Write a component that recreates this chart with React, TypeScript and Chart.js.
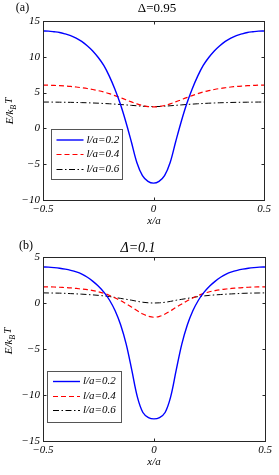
import React, { useEffect, useRef } from 'react';
import { Chart, registerables } from 'chart.js';
Chart.register(...registerables);

// x/a positions (shared by both panels)
const xValues = [
  -0.5, -0.475, -0.45, -0.425, -0.4, -0.375, -0.35, -0.325, -0.3, -0.275, -0.25,
  -0.225, -0.2, -0.175, -0.15, -0.125, -0.1, -0.075, -0.05, -0.025, 0,
  0.025, 0.05, 0.075, 0.1, 0.125, 0.15, 0.175, 0.2, 0.225, 0.25,
  0.275, 0.3, 0.325, 0.35, 0.375, 0.4, 0.425, 0.45, 0.475, 0.5,
];

const seriesLabels = ['l/a=0.2', 'l/a=0.4', 'l/a=0.6'];

// Panel (a): Δ=0.95
const topL02 = [
  13.6, 13.58, 13.5, 13.4, 13.2, 12.95, 12.6, 12.15, 11.55, 10.82, 9.9,
  8.8, 7.3, 5.5, 3.4, 0.9, -1.9, -4.8, -6.6, -7.4, -7.65,
  -7.4, -6.6, -4.8, -1.9, 0.9, 3.4, 5.5, 7.3, 8.8, 9.9,
  10.82, 11.55, 12.15, 12.6, 12.95, 13.2, 13.4, 13.5, 13.58, 13.6,
];
const topL04 = [
  6.05, 6.04, 6.0, 5.97, 5.92, 5.86, 5.78, 5.68, 5.57, 5.43, 5.27,
  5.08, 4.85, 4.58, 4.3, 4.0, 3.7, 3.42, 3.2, 3.05, 3.0,
  3.05, 3.2, 3.42, 3.7, 4.0, 4.3, 4.58, 4.85, 5.08, 5.27,
  5.43, 5.57, 5.68, 5.78, 5.86, 5.92, 5.97, 6.0, 6.04, 6.05,
];
const topL06 = [
  3.68, 3.68, 3.67, 3.66, 3.65, 3.64, 3.62, 3.6, 3.58, 3.55, 3.52,
  3.48, 3.44, 3.39, 3.34, 3.28, 3.22, 3.16, 3.1, 3.06, 3.05,
  3.06, 3.1, 3.16, 3.22, 3.28, 3.34, 3.39, 3.44, 3.48, 3.52,
  3.55, 3.58, 3.6, 3.62, 3.64, 3.65, 3.66, 3.67, 3.68, 3.68,
];

// Panel (b): Δ=0.1
const botL02 = [
  3.92, 3.9, 3.85, 3.78, 3.68, 3.55, 3.38, 3.14, 2.8, 2.35, 1.82,
  1.15, 0.3, -0.85, -2.4, -4.5, -7.3, -10.2, -11.9, -12.45, -12.6,
  -12.45, -11.9, -10.2, -7.3, -4.5, -2.4, -0.85, 0.3, 1.15, 1.82,
  2.35, 2.8, 3.14, 3.38, 3.55, 3.68, 3.78, 3.85, 3.9, 3.92,
];
const botL04 = [
  1.76, 1.75, 1.74, 1.71, 1.68, 1.64, 1.58, 1.52, 1.45, 1.35, 1.22,
  1.05, 0.82, 0.55, 0.25, -0.1, -0.45, -0.85, -1.2, -1.45, -1.55,
  -1.45, -1.2, -0.85, -0.45, -0.1, 0.25, 0.55, 0.82, 1.05, 1.22,
  1.35, 1.45, 1.52, 1.58, 1.64, 1.68, 1.71, 1.74, 1.75, 1.76,
];
const botL06 = [
  1.1, 1.09, 1.08, 1.07, 1.05, 1.02, 0.99, 0.96, 0.92, 0.88, 0.83,
  0.77, 0.7, 0.6, 0.5, 0.4, 0.3, 0.18, 0.08, 0.02, 0.0,
  0.02, 0.08, 0.18, 0.3, 0.4, 0.5, 0.6, 0.7, 0.77, 0.83,
  0.88, 0.92, 0.96, 0.99, 1.02, 1.05, 1.07, 1.08, 1.09, 1.1,
];

const xTickValues = [-0.5, 0, 0.5];
const topYTicks = [-10, -5, 0, 5, 10, 15];
const botYTicks = [-15, -10, -5, 0, 5];

const SERIF = '"Liberation Serif", "Times New Roman", "DejaVu Serif", serif';
const fmt = (v: number) => String(v).replace('-', '\u2212');

type Panel = {
  H: number;
  area: { l: number; t: number; r: number; b: number };
  yMin: number;
  yMax: number;
  yTicks: number[];
  series: number[][];
  title: string;
  titleItalic: boolean;
  titleSize: number;
  titlePos: [number, number];
  tag: string;
  tagPos: [number, number];
  yLabelPos: [number, number];
  xLabelPos: [number, number];
  legend: { x: number; y: number; w: number; h: number; rows: number[]; lx0: number; lx1: number; tx: number };
};

const styles = [
  { color: '#0000ff', width: 1.4, dash: [] as number[] },
  { color: '#ff0000', width: 1.2, dash: [5, 3] },
  { color: '#000000', width: 1.0, dash: [6, 2.5, 1.5, 2.5] },
];

const decorPlugin = {
  id: 'decor',
  afterDraw(chart: any, _args: any, opts: any) {
    const p: Panel = opts.panel;
    const ctx = chart.ctx as CanvasRenderingContext2D;
    const a = chart.chartArea;
    const xs = chart.scales.x;
    const ys = chart.scales.y;
    ctx.save();
    // box
    ctx.strokeStyle = '#262626';
    ctx.lineWidth = 1;
    ctx.setLineDash([]);
    const L = Math.round(a.left) + 0.5, R = Math.round(a.right) + 0.5;
    const T = Math.round(a.top) + 0.5, B = Math.round(a.bottom) + 0.5;
    ctx.strokeRect(L, T, R - L, B - T);
    // inward ticks
    ctx.beginPath();
    xTickValues.forEach((v) => {
      const px = Math.round(xs.getPixelForValue(v)) + 0.5;
      ctx.moveTo(px, B); ctx.lineTo(px, B - 3);
      ctx.moveTo(px, T); ctx.lineTo(px, T + 3);
    });
    p.yTicks.forEach((v) => {
      const py = Math.round(ys.getPixelForValue(v)) + 0.5;
      ctx.moveTo(L, py); ctx.lineTo(L + 3, py);
      ctx.moveTo(R, py); ctx.lineTo(R - 3, py);
    });
    ctx.stroke();

    // legend
    const lg = p.legend;
    ctx.fillStyle = '#ffffff';
    ctx.fillRect(lg.x, lg.y, lg.w, lg.h);
    ctx.strokeStyle = '#555555';
    ctx.lineWidth = 1;
    ctx.strokeRect(lg.x + 0.5, lg.y + 0.5, lg.w, lg.h);
    seriesLabels.forEach((lab, i) => {
      const s = styles[i];
      const y = lg.rows[i];
      ctx.strokeStyle = s.color;
      ctx.lineWidth = s.width;
      ctx.setLineDash(s.dash);
      ctx.beginPath();
      ctx.moveTo(lg.lx0, y);
      ctx.lineTo(lg.lx1, y);
      ctx.stroke();
      ctx.setLineDash([]);
      ctx.fillStyle = '#000';
      ctx.font = `italic 11px ${SERIF}`;
      ctx.textAlign = 'left';
      ctx.textBaseline = 'middle';
      ctx.fillText(lab, lg.tx, y);
    });

    // title
    ctx.fillStyle = '#000';
    ctx.font = `${p.titleItalic ? 'italic ' : ''}${p.titleSize}px ${SERIF}`;
    ctx.textAlign = 'center';
    ctx.textBaseline = 'middle';
    ctx.fillText(p.title, p.titlePos[0], p.titlePos[1]);
    // tag
    ctx.font = `12px ${SERIF}`;
    ctx.fillText(p.tag, p.tagPos[0], p.tagPos[1]);
    // x label
    ctx.font = `italic 11px ${SERIF}`;
    ctx.fillText('x/a', p.xLabelPos[0], p.xLabelPos[1]);
    // y label E/k_B T
    ctx.save();
    ctx.translate(p.yLabelPos[0], p.yLabelPos[1]);
    ctx.rotate(-Math.PI / 2);
    const big = `italic 11px ${SERIF}`;
    const small = `italic 8px ${SERIF}`;
    ctx.font = big;
    const w1 = ctx.measureText('E/k').width;
    const w3 = ctx.measureText('T').width;
    ctx.font = small;
    const w2 = ctx.measureText('B').width;
    const total = w1 + w2 + w3 + 1;
    let x0 = -total / 2;
    ctx.textAlign = 'left';
    ctx.textBaseline = 'middle';
    ctx.font = big;
    ctx.fillText('E/k', x0, 0);
    x0 += w1;
    ctx.font = small;
    ctx.fillText('B', x0, 3.5);
    x0 += w2 + 1;
    ctx.font = big;
    ctx.fillText('T', x0, -1);
    ctx.restore();

    ctx.restore();
  },
};

function buildConfig(p: Panel): any {
  return {
    type: 'line',
    data: {
      datasets: p.series.map((ys, i) => ({
        label: seriesLabels[i],
        data: xValues.map((x, j) => ({ x, y: ys[j] })),
        borderColor: styles[i].color,
        borderWidth: styles[i].width,
        borderDash: styles[i].dash,
        pointRadius: 0,
        fill: false,
        tension: 0.35,
      })),
    },
    plugins: [decorPlugin],
    options: {
      responsive: false,
      animation: false,
      devicePixelRatio: 1,
      layout: { padding: { left: 0, top: p.area.t, right: 279 - p.area.r, bottom: 0 } },
      plugins: {
        legend: { display: false },
        title: { display: false },
        tooltip: { enabled: false },
        decor: { panel: p },
      },
      scales: {
        x: {
          type: 'linear',
          min: -0.5,
          max: 0.5,
          afterFit: (s: any) => { s.height = p.H - p.area.b; },
          afterBuildTicks: (s: any) => { s.ticks = xTickValues.map((v) => ({ value: v })); },
          grid: { display: false, drawTicks: false },
          border: { display: false },
          ticks: {
            padding: 3,
            color: '#000',
            font: { family: SERIF, style: 'italic', size: 11 },
            callback: (v: number) => fmt(v),
            maxRotation: 0,
          },
        },
        y: {
          type: 'linear',
          min: p.yMin,
          max: p.yMax,
          afterFit: (s: any) => { s.width = p.area.l; },
          afterBuildTicks: (s: any) => { s.ticks = p.yTicks.map((v) => ({ value: v })); },
          grid: { display: false, drawTicks: false },
          border: { display: false },
          ticks: {
            padding: 3,
            color: '#000',
            font: { family: SERIF, style: 'italic', size: 11 },
            callback: (v: number) => fmt(v),
          },
        },
      },
    },
  };
}

const topPanel: Panel = {
  H: 237,
  area: { l: 43, t: 21, r: 264, b: 200 },
  yMin: -10,
  yMax: 15,
  yTicks: topYTicks,
  series: [topL02, topL04, topL06],
  title: '\u0394=0.95',
  titleItalic: false,
  titleSize: 13,
  titlePos: [157, 9],
  tag: '(a)',
  tagPos: [22.5, 8],
  yLabelPos: [10, 111],
  xLabelPos: [154, 221],
  legend: { x: 51, y: 129, w: 71, h: 50, rows: [140, 154.5, 169.5], lx0: 56.5, lx1: 83.5, tx: 86.5 },
};

const botPanel: Panel = {
  H: 238,
  area: { l: 43, t: 20, r: 265, b: 204 },
  yMin: -15,
  yMax: 5,
  yTicks: botYTicks,
  series: [botL02, botL04, botL06],
  title: '\u0394=0.1',
  titleItalic: true,
  titleSize: 14,
  titlePos: [138, 11],
  tag: '(b)',
  tagPos: [26, 9],
  yLabelPos: [9, 104],
  xLabelPos: [154, 225],
  legend: { x: 47, y: 134, w: 74, h: 51, rows: [144.5, 159.5, 173.5], lx0: 53, lx1: 80, tx: 83 },
};

function PanelChart({ panel }: { panel: Panel }) {
  const ref = useRef<HTMLCanvasElement | null>(null);
  useEffect(() => {
    let chart: Chart | null = null;
    let cancelled = false;
    const make = () => {
      if (cancelled || !ref.current) return;
      chart = new Chart(ref.current, buildConfig(panel));
    };
    const fonts = (document as any).fonts;
    if (fonts && fonts.load) {
      Promise.all([
        fonts.load('italic 11px "Liberation Serif"'),
        fonts.load('12px "Liberation Serif"'),
      ]).then(make, make);
    } else {
      make();
    }
    return () => {
      cancelled = true;
      if (chart) chart.destroy();
    };
  }, [panel]);
  return <canvas ref={ref} width={279} height={panel.H} style={{ display: 'block', width: 279, height: panel.H }} />;
}

export default function App() {
  return (
    <div style={{ position: 'fixed', left: 0, top: 0, width: 279, height: 475, background: '#fff' }}>
      <PanelChart panel={topPanel} />
      <PanelChart panel={botPanel} />
    </div>
  );
}
